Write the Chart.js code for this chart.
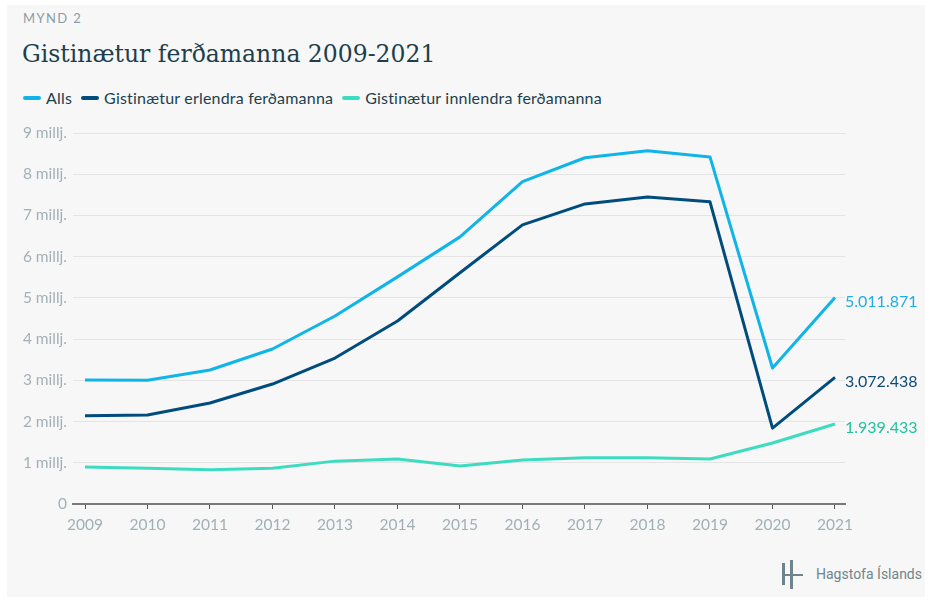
<!DOCTYPE html>
<html lang="is">
<head>
<meta charset="utf-8">
<title>Gistinætur ferðamanna 2009-2021</title>
<script src="https://cdn.jsdelivr.net/npm/chart.js@4"></script>
<style>
  html, body { margin: 0; padding: 0; background: #fff; }
  body { width: 932px; height: 603px; position: relative; overflow: hidden; font-family: Lato, sans-serif; }
  .card { position: absolute; left: 7px; top: 5px; width: 918px; height: 592px; background: #f7f7f7; }
  .kicker { position: absolute; left: 23px; top: 10px; font-size: 13px; letter-spacing: 1.4px; color: #8b9ca4; }
  .title { position: absolute; left: 22px; top: 40px; font-family: "DejaVu Serif", serif; font-size: 23.5px; color: #1d3f4d; white-space: nowrap; }
  .legend { position: absolute; left: 23px; top: 88px; display: flex; align-items: center; font-size: 16px; letter-spacing: 0.2px; color: #1d3f4d; white-space: nowrap; }
  .legend span.item { display: flex; align-items: center; margin-right: 9px; }
  .legend i { display: inline-block; width: 18px; height: 4px; border-radius: 2px; margin-right: 5px; }
  .chartbox { position: absolute; left: 0; top: 110px; width: 932px; height: 440px; }
  .logo { position: absolute; left: 780px; top: 559px; display: flex; align-items: center; color: #6f858d; font-family: Roboto, sans-serif; font-size: 14px; }
  .logo svg { margin-right: 12px; }
</style>
</head>
<body>
<div class="card"></div>
<div class="kicker">MYND 2</div>
<div class="title">Gistinætur ferðamanna 2009-2021</div>
<div class="legend" id="legend"></div>
<div class="chartbox"><canvas id="chart"></canvas></div>
<div class="logo">
  <svg width="24" height="30" viewBox="0 0 24 30">
    <rect x="2" y="4" width="3" height="11" fill="#6f858d"/>
    <rect x="2" y="17" width="3" height="9" fill="#6f858d"/>
    <rect x="10" y="1" width="3" height="29" fill="#6f858d"/>
    <rect x="2" y="15" width="21" height="2" fill="#6f858d"/>
  </svg>
  <span>Hagstofa Íslands</span>
</div>
<script>
const years = [2009, 2010, 2011, 2012, 2013, 2014, 2015, 2016, 2017, 2018, 2019, 2020, 2021];
const alls = [3010000, 3000000, 3250000, 3760000, 4560000, 5510000, 6480000, 7820000, 8400000, 8570000, 8420000, 3300000, 5011871];
const erlendra = [2140000, 2160000, 2450000, 2910000, 3540000, 4440000, 5610000, 6770000, 7280000, 7450000, 7330000, 1840000, 3072438];
const innlendra = [900000, 870000, 830000, 870000, 1040000, 1090000, 920000, 1070000, 1120000, 1120000, 1090000, 1480000, 1939433];

const seriesNames = ['Alls', 'Gistinætur erlendra ferðamanna', 'Gistinætur innlendra ferðamanna'];
const seriesColors = ['#0fb5e8', '#004c7d', '#3ddcc0'];
const labelColors = ['#1eaee0', '#0f4c74', '#21c39e'];
const yTicks = [0, 1000000, 2000000, 3000000, 4000000, 5000000, 6000000, 7000000, 8000000, 9000000];

// legend in html
const legendEl = document.getElementById('legend');
seriesNames.forEach((name, i) => {
  const item = document.createElement('span');
  item.className = 'item';
  item.innerHTML = `<i style="background:${seriesColors[i]}"></i>${name}`;
  legendEl.appendChild(item);
});

const fmt = v => String(v).replace(/\B(?=(\d{3})+(?!\d))/g, '.');

const endLabels = {
  id: 'endLabels',
  afterDatasetsDraw(chart) {
    const ctx = chart.ctx;
    ctx.save();
    ctx.font = '16px Lato';
    ctx.textAlign = 'left';
    ctx.textBaseline = 'middle';
    chart.data.datasets.forEach((ds, i) => {
      const meta = chart.getDatasetMeta(i);
      const pt = meta.data[meta.data.length - 1];
      ctx.fillStyle = labelColors[i];
      ctx.fillText(fmt(ds.data[ds.data.length - 1].y), pt.x + 10, pt.y + 4);
    });
    ctx.restore();
  }
};

Chart.defaults.font.family = 'Lato';

const series = [alls, erlendra, innlendra];

new Chart(document.getElementById('chart'), {
  type: 'line',
  data: {
    datasets: series.map((arr, i) => ({
      label: seriesNames[i],
      data: arr.map((v, j) => ({ x: years[j], y: v })),
      borderColor: seriesColors[i],
      backgroundColor: seriesColors[i],
      borderWidth: 3,
      borderJoinStyle: 'round',
      pointRadius: 0,
      tension: 0,
      fill: false
    }))
  },
  options: {
    responsive: true,
    maintainAspectRatio: false,
    animation: false,
    layout: { padding: { top: 23, right: 87, left: 0, bottom: 0 } },
    plugins: {
      legend: { display: false },
      tooltip: { enabled: false }
    },
    scales: {
      x: {
        type: 'linear',
        min: 2008.808,
        max: 2021.16,
        afterBuildTicks: axis => { axis.ticks = years.map(v => ({ value: v })); },
        afterFit: scale => { scale.height = 46; },
        ticks: {
          color: '#9fb0b6',
          font: { size: 15.5 },
          padding: 7,
          maxRotation: 0,
          autoSkip: false,
          callback: v => String(v)
        },
        grid: {
          drawOnChartArea: false,
          drawTicks: true,
          tickLength: 5,
          tickColor: '#555',
          lineWidth: 1
        },
        border: { display: true, color: '#7a7a7a', width: 2 }
      },
      y: {
        min: 0,
        max: 9000000,
        afterBuildTicks: axis => { axis.ticks = yTicks.map(v => ({ value: v })); },
        afterFit: scale => { scale.width = 73; },
        ticks: {
          color: '#a3b1b6',
          font: { size: 15.5 },
          padding: 6,
          callback: v => v === 0 ? '0' : (v / 1000000) + ' millj.'
        },
        grid: { color: '#e4e4e4', lineWidth: 1, drawTicks: false },
        border: { display: false }
      }
    }
  },
  plugins: [endLabels]
});
</script>
</body>
</html>
